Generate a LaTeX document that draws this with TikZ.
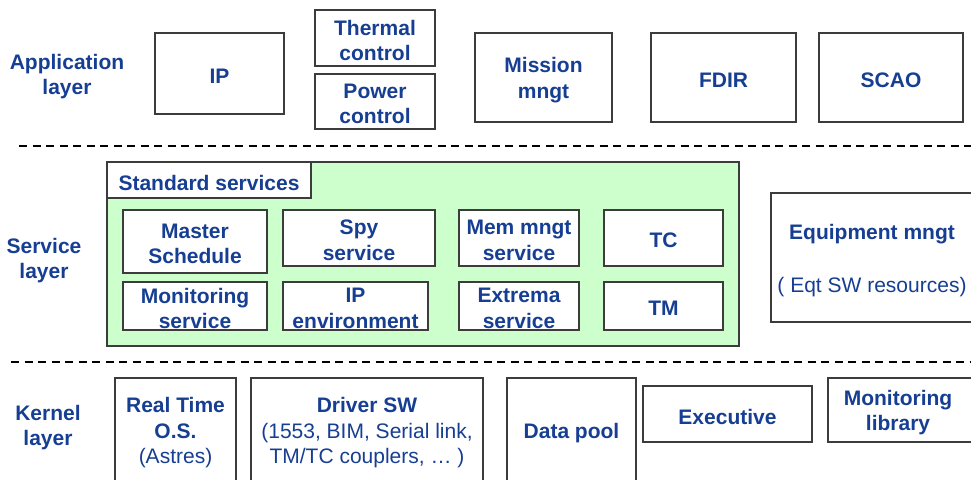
\documentclass[tikz,border=0pt]{standalone}
\usepackage{fontspec}
\setmainfont{Liberation Sans}
\definecolor{ink}{RGB}{22,62,146}
\definecolor{frame}{RGB}{60,60,60}
\definecolor{svcgreen}{RGB}{204,255,204}
\tikzset{
  every node/.style={font=\fontsize{21}{25.5}\selectfont\bfseries, text=ink, align=center, inner sep=0pt},
  box/.style={draw=frame, line width=1.3pt, fill=white, rectangle},
  txt/.style={yshift=-2.5pt},
  sep/.style={line width=2.2pt, dash pattern=on 8pt off 5.5pt},
}
% box from its corner coordinates (pixel units, y downwards), then its text
\newcommand{\boxat}[7][]{%
  \node[box,#1, minimum width={(#4)-(#2)}, minimum height={(#5)-(#3)}]
    (#6) at ({((#2)+(#4))/2},{((#3)+(#5))/2}) {};
  \node[txt] (#6-text) at (#6.center) {#7};}
\begin{document}
\begin{tikzpicture}[x=1pt, y=-1pt]
\useasboundingbox (0,0) rectangle (971,479);
\clip (0,0) rectangle (971,479);

% ---------- layer separators ----------
\coordinate (s1a) at (19,146);  \coordinate (s1b) at (975,146);
\coordinate (s2a) at (11,362);  \coordinate (s2b) at (975,362);
\draw[sep] (s1a) -- (s1b);
\draw[sep] (s2a) -- (s2b);

% ---------- application layer ----------
\node[txt] (applbl) at (67,74) {Application\\layer};
\boxat{155}{33}{284}{114}{ip}{IP}
\boxat{315}{10}{435}{66}{thermal}{Thermal\\control}
\boxat{315}{74}{435}{129}{power}{Power\\control}
\boxat{475}{33}{612}{122}{mission}{Mission\\mngt}
\boxat{651}{33}{796}{122}{fdir}{FDIR}
\boxat{819}{33}{963}{122}{scao}{SCAO}

% ---------- service layer ----------
\node[txt] (svclbl) at (44,258) {Service\\layer};
\boxat[fill=svcgreen]{107}{162}{739}{346}{std}{}
\boxat{107}{162}{311}{198}{stdtab}{Standard services}
\boxat{123}{210}{267}{273}{master}{Master\\Schedule}
\boxat{283}{210}{435}{266}{spy}{Spy\\service}
\boxat{459}{210}{579}{266}{mem}{Mem mngt\\service}
\boxat{604}{210}{723}{266}{tc}{TC}
\boxat{123}{282}{267}{330}{monsvc}{Monitoring\\service}
\boxat{283}{282}{428}{330}{ipenv}{IP\\environment}
\boxat{459}{282}{579}{330}{extrema}{Extrema\\service}
\boxat{604}{282}{723}{330}{tm}{TM}
\node[box, minimum width=204pt, minimum height=129pt] (equip) at (873,257.5) {};
\node[txt] (equip-text) at (872,258) {Equipment mngt\\[27.5pt]\mdseries ( Eqt SW resources)};

% ---------- kernel layer ----------
\node[txt] (kerlbl) at (48,425) {Kernel\\layer};
\boxat{115}{378}{236}{483}{rtos}{Real Time\\O.S.\\\mdseries(Astres)}
\boxat{251}{378}{483}{483}{driver}{Driver SW\\\mdseries(1553, BIM, Serial link,\\\mdseries TM/TC couplers, \dots\ )}
\boxat{507}{378}{636}{483}{datapool}{Data pool}
\boxat{643}{386}{812}{442}{exec}{Executive}
\node[box, minimum width=147pt, minimum height=64pt] (monlib) at (901.5,410) {};
\node[txt] (monlib-text) at (898,410) {Monitoring\\library};
\end{tikzpicture}
\end{document}
